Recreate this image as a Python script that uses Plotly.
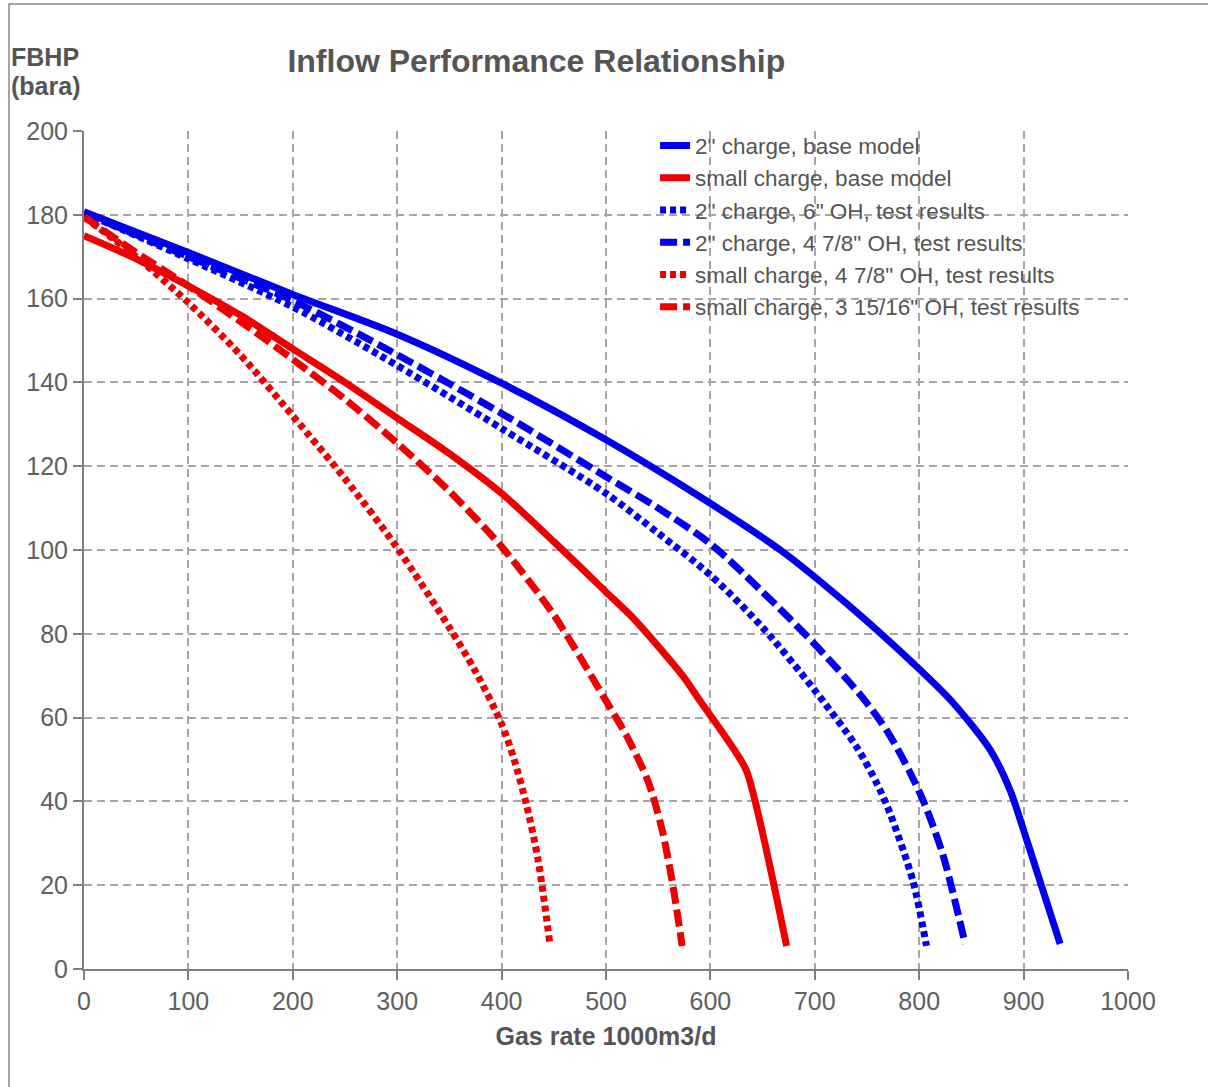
import plotly.graph_objects as go

# ---- data ----
blue_base_x = [0, 100, 200, 300, 400, 500, 590, 667, 730, 794, 830, 868, 887, 903, 935]
blue_base_y = [180.7, 171, 161, 151.5, 139.8, 126.3, 112.7, 100, 87.3, 73, 64.2, 52.3, 42.7, 30.8, 6]

red_base_x = [0, 50, 100, 150, 200, 250, 300, 350, 400, 450, 500, 525, 550, 575, 590, 610, 625, 635, 673]
red_base_y = [175, 169.5, 163, 156, 148, 140, 131.5, 123, 113.5, 102, 90, 84, 77, 69.5, 64, 57, 51.5, 47, 5.5]

blue_6oh_x = [0, 100, 200, 283, 400, 500, 550, 600, 650, 700, 740, 760, 772, 794, 807]
blue_6oh_y = [180.5, 169.5, 158, 146.5, 129, 113.5, 104, 94, 81.5, 66.5, 53, 44, 37.2, 21, 5.5]

blue_478_x = [0, 100, 200, 283, 400, 500, 550, 600, 650, 700, 745, 770, 790, 805, 823, 844]
blue_478_y = [180.5, 170, 159.5, 148.9, 132.6, 117.5, 110, 101.5, 90, 77.5, 65, 56.5, 47.5, 39.5, 27, 6]

red_478_x = [0, 50, 100, 150, 200, 250, 300, 350, 375, 400, 412, 424, 435, 446]
red_478_y = [179.5, 170, 159, 146.5, 132, 117, 100.5, 81.5, 71, 58.5, 50, 39, 26, 6.5]

red_31516_x = [0, 50, 100, 150, 200, 250, 300, 350, 400, 450, 500, 520, 540, 553, 563, 573]
red_31516_y = [179.5, 171, 163, 154.5, 145.5, 136, 125.5, 114, 100.8, 84.5, 64, 55.5, 45, 34, 21.5, 5.5]

names = [
    '2" charge, base model',
    'small charge, base model',
    '2" charge, 6" OH, test results',
    '2" charge, 4 7/8" OH, test results',
    'small charge, 4 7/8" OH, test results',
    'small charge, 3 15/16" OH, test results',
]

x_ticks = [0, 100, 200, 300, 400, 500, 600, 700, 800, 900, 1000]
y_ticks = [0, 20, 40, 60, 80, 100, 120, 140, 160, 180, 200]

BLUE = '#0000ee'
RED = '#ee0000'
TXT = '#555555'
FONT = 'Liberation Sans, Arial, sans-serif'

series = [
    (blue_base_x, blue_base_y, BLUE, 'solid'),
    (red_base_x, red_base_y, RED, 'solid'),
    (blue_6oh_x, blue_6oh_y, BLUE, '6px,4px'),
    (blue_478_x, blue_478_y, BLUE, '17px,6px'),
    (red_478_x, red_478_y, RED, '6px,4px'),
    (red_31516_x, red_31516_y, RED, '17px,6px'),
]

fig = go.Figure()
for (xs, ys, col, dash), nm in zip(series, names):
    fig.add_trace(go.Scatter(
        x=xs, y=ys, mode='lines', name=nm,
        line=dict(color=col, width=7, dash=dash, shape='spline', smoothing=0.8),
    ))

axis_common = dict(
    showgrid=True, gridcolor='#aaa4aa', gridwidth=2, griddash='8px,5px',
    showline=True, linecolor='#808080', linewidth=2,
    ticks='outside', ticklen=9, tickwidth=2, tickcolor='#808080',
    tickfont=dict(family=FONT, size=25, color='#606060'),
    zeroline=False,
)

fig.update_xaxes(range=[0, 1000], tickvals=x_ticks,
                 title=dict(text='<b>Gas rate 1000m3/d</b>', font=dict(family=FONT, size=25, color=TXT), standoff=13),
                 **axis_common)
fig.update_yaxes(range=[0, 200], tickvals=y_ticks, **axis_common)

fig.update_layout(
    width=1208, height=1087,
    margin=dict(l=84, r=80, t=131, b=118),
    paper_bgcolor='white', plot_bgcolor='white',
    title=dict(text='<b>Inflow Performance Relationship</b>', xref='container', x=0.444, xanchor='center',
               yref='container', y=1 - 61 / 1087, yanchor='middle',
               font=dict(family=FONT, size=32, color=TXT)),
    legend=dict(x=0.547, y=1.008, xanchor='left', yanchor='top', bgcolor='rgba(0,0,0,0)',
                font=dict(family=FONT, size=22.5, color=TXT), tracegroupgap=0, itemwidth=30),
    showlegend=True,
    annotations=[
        dict(text='<b>FBHP</b>', xref='paper', yref='paper',
             x=(9 - 84) / 1044, y=(969 - 57) / 838, xanchor='left', yanchor='middle',
             showarrow=False, font=dict(family=FONT, size=25, color=TXT)),
        dict(text='<b>(bara)</b>', xref='paper', yref='paper',
             x=(9 - 84) / 1044, y=(969 - 86) / 838, xanchor='left', yanchor='middle',
             showarrow=False, font=dict(family=FONT, size=25, color=TXT)),
    ],
    shapes=[dict(type='rect', xref='paper', yref='paper', x0=(9 - 84) / 1044, x1=1.3,
                 y0=-0.3, y1=(969 - 4) / 838, line=dict(color='#888888', width=1.5), layer='below')],
)

fig.write_html('out.html')
